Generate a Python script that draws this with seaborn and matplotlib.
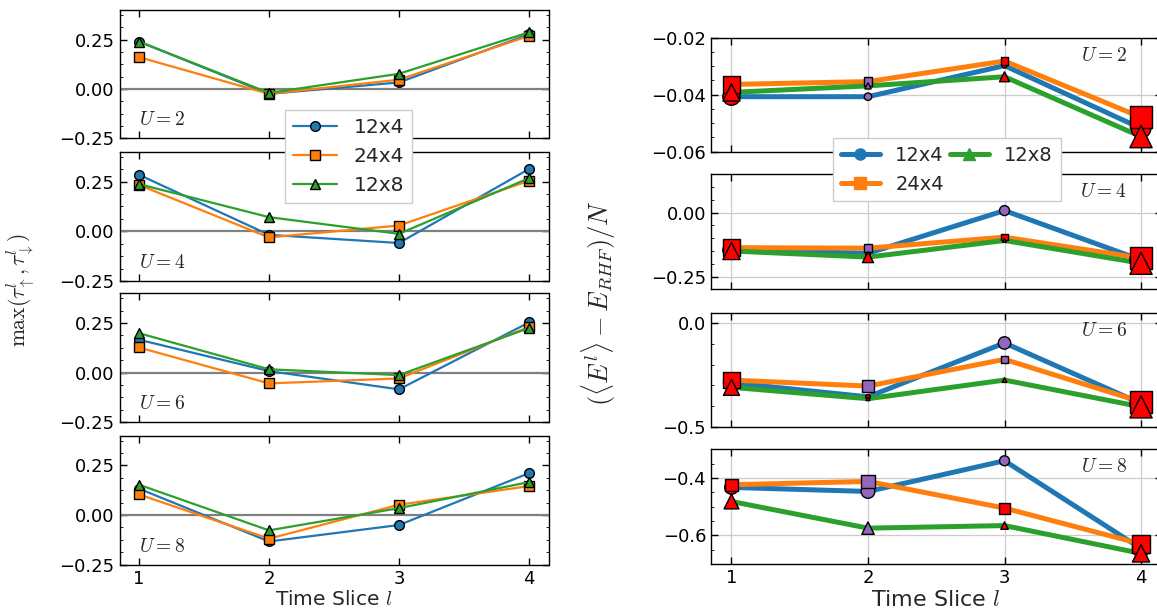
import numpy as np
import pandas as pd
import matplotlib
matplotlib.use("Agg")
import matplotlib.pyplot as plt
from matplotlib.ticker import MultipleLocator, AutoMinorLocator
from matplotlib.lines import Line2D
import seaborn as sns

# ---------------------------------------------------------------- data
slices = [1, 2, 3, 4]
lattices = ["12x4", "24x4", "12x8"]
couplings = [2, 4, 6, 8]

# max(tau_up^l, tau_down^l); rows follow `lattices`, columns follow `slices`
tau_u2 = [[0.240, -0.025, 0.033, 0.277],
          [0.161, -0.025, 0.047, 0.269],
          [0.240, -0.020, 0.077, 0.287]]
tau_u4 = [[0.284, -0.018, -0.059, 0.313],
          [0.233, -0.031, 0.029, 0.254],
          [0.237, 0.071, -0.013, 0.267]]
tau_u6 = [[0.166, 0.008, -0.084, 0.253],
          [0.127, -0.054, -0.029, 0.230],
          [0.199, 0.017, -0.012, 0.225]]
tau_u8 = [[0.133, -0.133, -0.050, 0.211],
          [0.104, -0.119, 0.052, 0.146],
          [0.153, -0.077, 0.035, 0.166]]

# (<E^l> - E_RHF)/N
de_u2 = [[-0.0407, -0.0407, -0.0298, -0.0518],
         [-0.0364, -0.0354, -0.0282, -0.0479],
         [-0.0392, -0.0369, -0.0337, -0.0547]]
de_u4 = [[-0.146, -0.159, 0.008, -0.185],
         [-0.137, -0.139, -0.096, -0.178],
         [-0.150, -0.174, -0.109, -0.198]]
de_u6 = [[-0.288, -0.356, -0.096, -0.388],
         [-0.275, -0.304, -0.175, -0.380],
         [-0.310, -0.365, -0.275, -0.404]]
de_u8 = [[-0.433, -0.447, -0.340, -0.646],
         [-0.4235, -0.412, -0.505, -0.630],
         [-0.482, -0.575, -0.566, -0.663]]

# relative spread of each estimate (drives marker area)
spread_u2 = [[0.52, 0.08, 0.02, 0.69],
             [0.52, 0.115, 0.08, 0.88],
             [0.52, 0.05, 0.16, 0.88]]
spread_u4 = [[0.52, 0.02, 0.16, 0.88],
             [0.52, 0.08, 0.05, 0.88],
             [0.52, 0.20, 0.004, 0.88]]
spread_u6 = [[0.45, 0.02, 0.26, 0.88],
             [0.45, 0.26, 0.08, 0.88],
             [0.45, 0.004, 0.02, 0.88]]
spread_u8 = [[0.32, 0.32, 0.16, 0.52],
             [0.26, 0.32, 0.20, 0.52],
             [0.38, 0.26, 0.08, 0.52]]

# sign of the estimate ("pos" drawn red, "neg" drawn purple)
sign_u2 = [["pos", "neg", "pos", "pos"],
           ["pos", "neg", "pos", "pos"],
           ["pos", "neg", "pos", "pos"]]
sign_u4 = [["pos", "neg", "neg", "pos"],
           ["pos", "neg", "pos", "pos"],
           ["pos", "pos", "pos", "pos"]]
sign_u6 = [["pos", "pos", "neg", "pos"],
           ["pos", "neg", "neg", "pos"],
           ["pos", "pos", "pos", "pos"]]
sign_u8 = [["pos", "neg", "neg", "pos"],
           ["pos", "neg", "pos", "pos"],
           ["pos", "neg", "pos", "pos"]]

tau_sets = [tau_u2, tau_u4, tau_u6, tau_u8]
de_sets = [de_u2, de_u4, de_u6, de_u8]
spread_sets = [spread_u2, spread_u4, spread_u6, spread_u8]
sign_sets = [sign_u2, sign_u4, sign_u6, sign_u8]

# ---------------------------------------------------------------- style
sns.set_style("ticks")
plt.rcParams.update({
    "font.family": ["DejaVu Sans"],
    "mathtext.fontset": "cm",
    "axes.unicode_minus": True,
    "axes.edgecolor": "black",
    "axes.linewidth": 1.0,
    "xtick.color": "black",
    "ytick.color": "black",
    "xtick.direction": "in",
    "ytick.direction": "in",
    "xtick.top": True,
    "ytick.right": True,
    "xtick.major.size": 5,
    "ytick.major.size": 5,
    "ytick.minor.size": 2.5,
    "xtick.major.width": 1.0,
    "ytick.major.width": 1.0,
    "xtick.labelsize": 13,
    "ytick.labelsize": 13,
})

colors = ["tab:blue", "tab:orange", "tab:green"]
markers = ["o", "s", "^"]
sign_palette = {"pos": "#ff0000", "neg": "tab:purple"}

W, H = 1157, 615
fig = plt.figure(figsize=(W / 100, H / 100), dpi=100)


def rect(left, right, top, bottom):
    return [left / W, 1 - bottom / H, (right - left) / W, (bottom - top) / H]


left_rows = [(10, 138.3), (151.7, 281), (293.3, 422.3), (435.7, 564.7)]
right_rows = [(37.7, 151.7), (174.3, 289.3), (312.7, 426.7), (449.3, 564)]

# ------------------------------------------------ left column: tau panels
left_axes = []
for k, (u, tau, (t, b)) in enumerate(zip(couplings, tau_sets, left_rows)):
    ax = fig.add_axes(rect(119.5, 548.5, t, b))
    left_axes.append(ax)
    ax.axhline(0, color="gray", lw=1.6, zorder=1)
    for j, lat in enumerate(lattices):
        sns.lineplot(x=slices, y=tau[j], color=colors[j], marker=markers[j],
                     markersize=7, markeredgecolor="black", markeredgewidth=1,
                     lw=1.6, label=lat, ax=ax)
    if ax.get_legend() is not None:
        ax.get_legend().remove()
    ax.set_xlim(0.85, 4.15)
    ax.set_ylim(-0.25, 0.4)
    ax.xaxis.set_major_locator(MultipleLocator(1))
    ax.yaxis.set_major_locator(MultipleLocator(0.25))
    ax.yaxis.set_minor_locator(AutoMinorLocator(4))
    ax.tick_params(which="both", direction="in", top=True, right=True)
    ax.text(0.046, 0.07, f"$U={u}$", transform=ax.transAxes,
            ha="left", va="bottom", fontsize=14)
    if k < 3:
        ax.tick_params(labelbottom=False)
        ax.set_xlabel("")
    else:
        ax.set_xlabel("Time Slice $l$", fontsize=14.5, labelpad=2)
    ax.set_ylabel("")

handles, labels = left_axes[0].get_legend_handles_labels()
fig.legend(handles, labels, loc="upper left",
           bbox_to_anchor=(285 / W, 1 - 110 / H), borderaxespad=0,
           fontsize=14.5, handlelength=2.2, fancybox=False,
           edgecolor="0.8", framealpha=1)

fig.text(21 / W, 1 - 290 / H, r"$\max(\tau^l_\uparrow, \tau^l_\downarrow)$",
         rotation=90, ha="center", va="center", fontsize=15.5)

# ------------------------------------------------ right column: energies
right_ylim = [(-0.06, -0.02), (-0.3, 0.15), (-0.5, 0.05), (-0.7, -0.3)]
right_step = [0.02, 0.25, 0.5, 0.2]
right_axes = []
for k, (u, de, spread, sign, (t, b)) in enumerate(
        zip(couplings, de_sets, spread_sets, sign_sets, right_rows)):
    ax = fig.add_axes(rect(711, 1161.5, t, b))
    right_axes.append(ax)
    ax.grid(True, color="#cccccc", lw=0.9)
    ax.set_axisbelow(True)
    for j, lat in enumerate(lattices):
        sns.lineplot(x=slices, y=de[j], color=colors[j], lw=3.6, ax=ax,
                     zorder=2)
    for j, lat in enumerate(lattices):
        pts = pd.DataFrame({"slice": slices, "de": de[j],
                            "sign": sign[j], "spread": spread[j]})
        sns.scatterplot(data=pts, x="slice", y="de", hue="sign",
                        palette=sign_palette, size="spread",
                        sizes=(6, 290), size_norm=(0, 1),
                        marker=markers[j], edgecolor="black", linewidth=1,
                        legend=False, ax=ax, zorder=3)
    ax.set_xlim(0.85, 4.15)
    ax.set_ylim(*right_ylim[k])
    ax.xaxis.set_major_locator(MultipleLocator(1))
    ax.yaxis.set_major_locator(MultipleLocator(right_step[k]))
    ax.yaxis.set_minor_locator(AutoMinorLocator())
    ax.tick_params(which="both", direction="in", top=True, right=True)
    ax.text(0.923, 0.93, f"$U={u}$", transform=ax.transAxes,
            ha="right", va="top", fontsize=14)
    ax.set_ylabel("")
    if k < 3:
        ax.tick_params(labelbottom=False)
        ax.set_xlabel("")
    else:
        ax.set_xlabel("Time Slice $l$", fontsize=16, labelpad=2)

proxies = [Line2D([], [], color=c, lw=3.6, marker=m, markersize=8)
           for c, m in zip(colors, markers)]
fig.legend(proxies, lattices, loc="upper left", ncol=2,
           bbox_to_anchor=(833 / W, 1 - 138 / H), borderaxespad=0,
           columnspacing=0.3, fontsize=14, fancybox=False,
           edgecolor="0.8", framealpha=1)

fig.text(599 / W, 1 - 303 / H, r"$(\langle E^l\rangle - E_{RHF})/N$",
         rotation=90, ha="center", va="center", fontsize=19)

fig.savefig("out.png", dpi=100)
